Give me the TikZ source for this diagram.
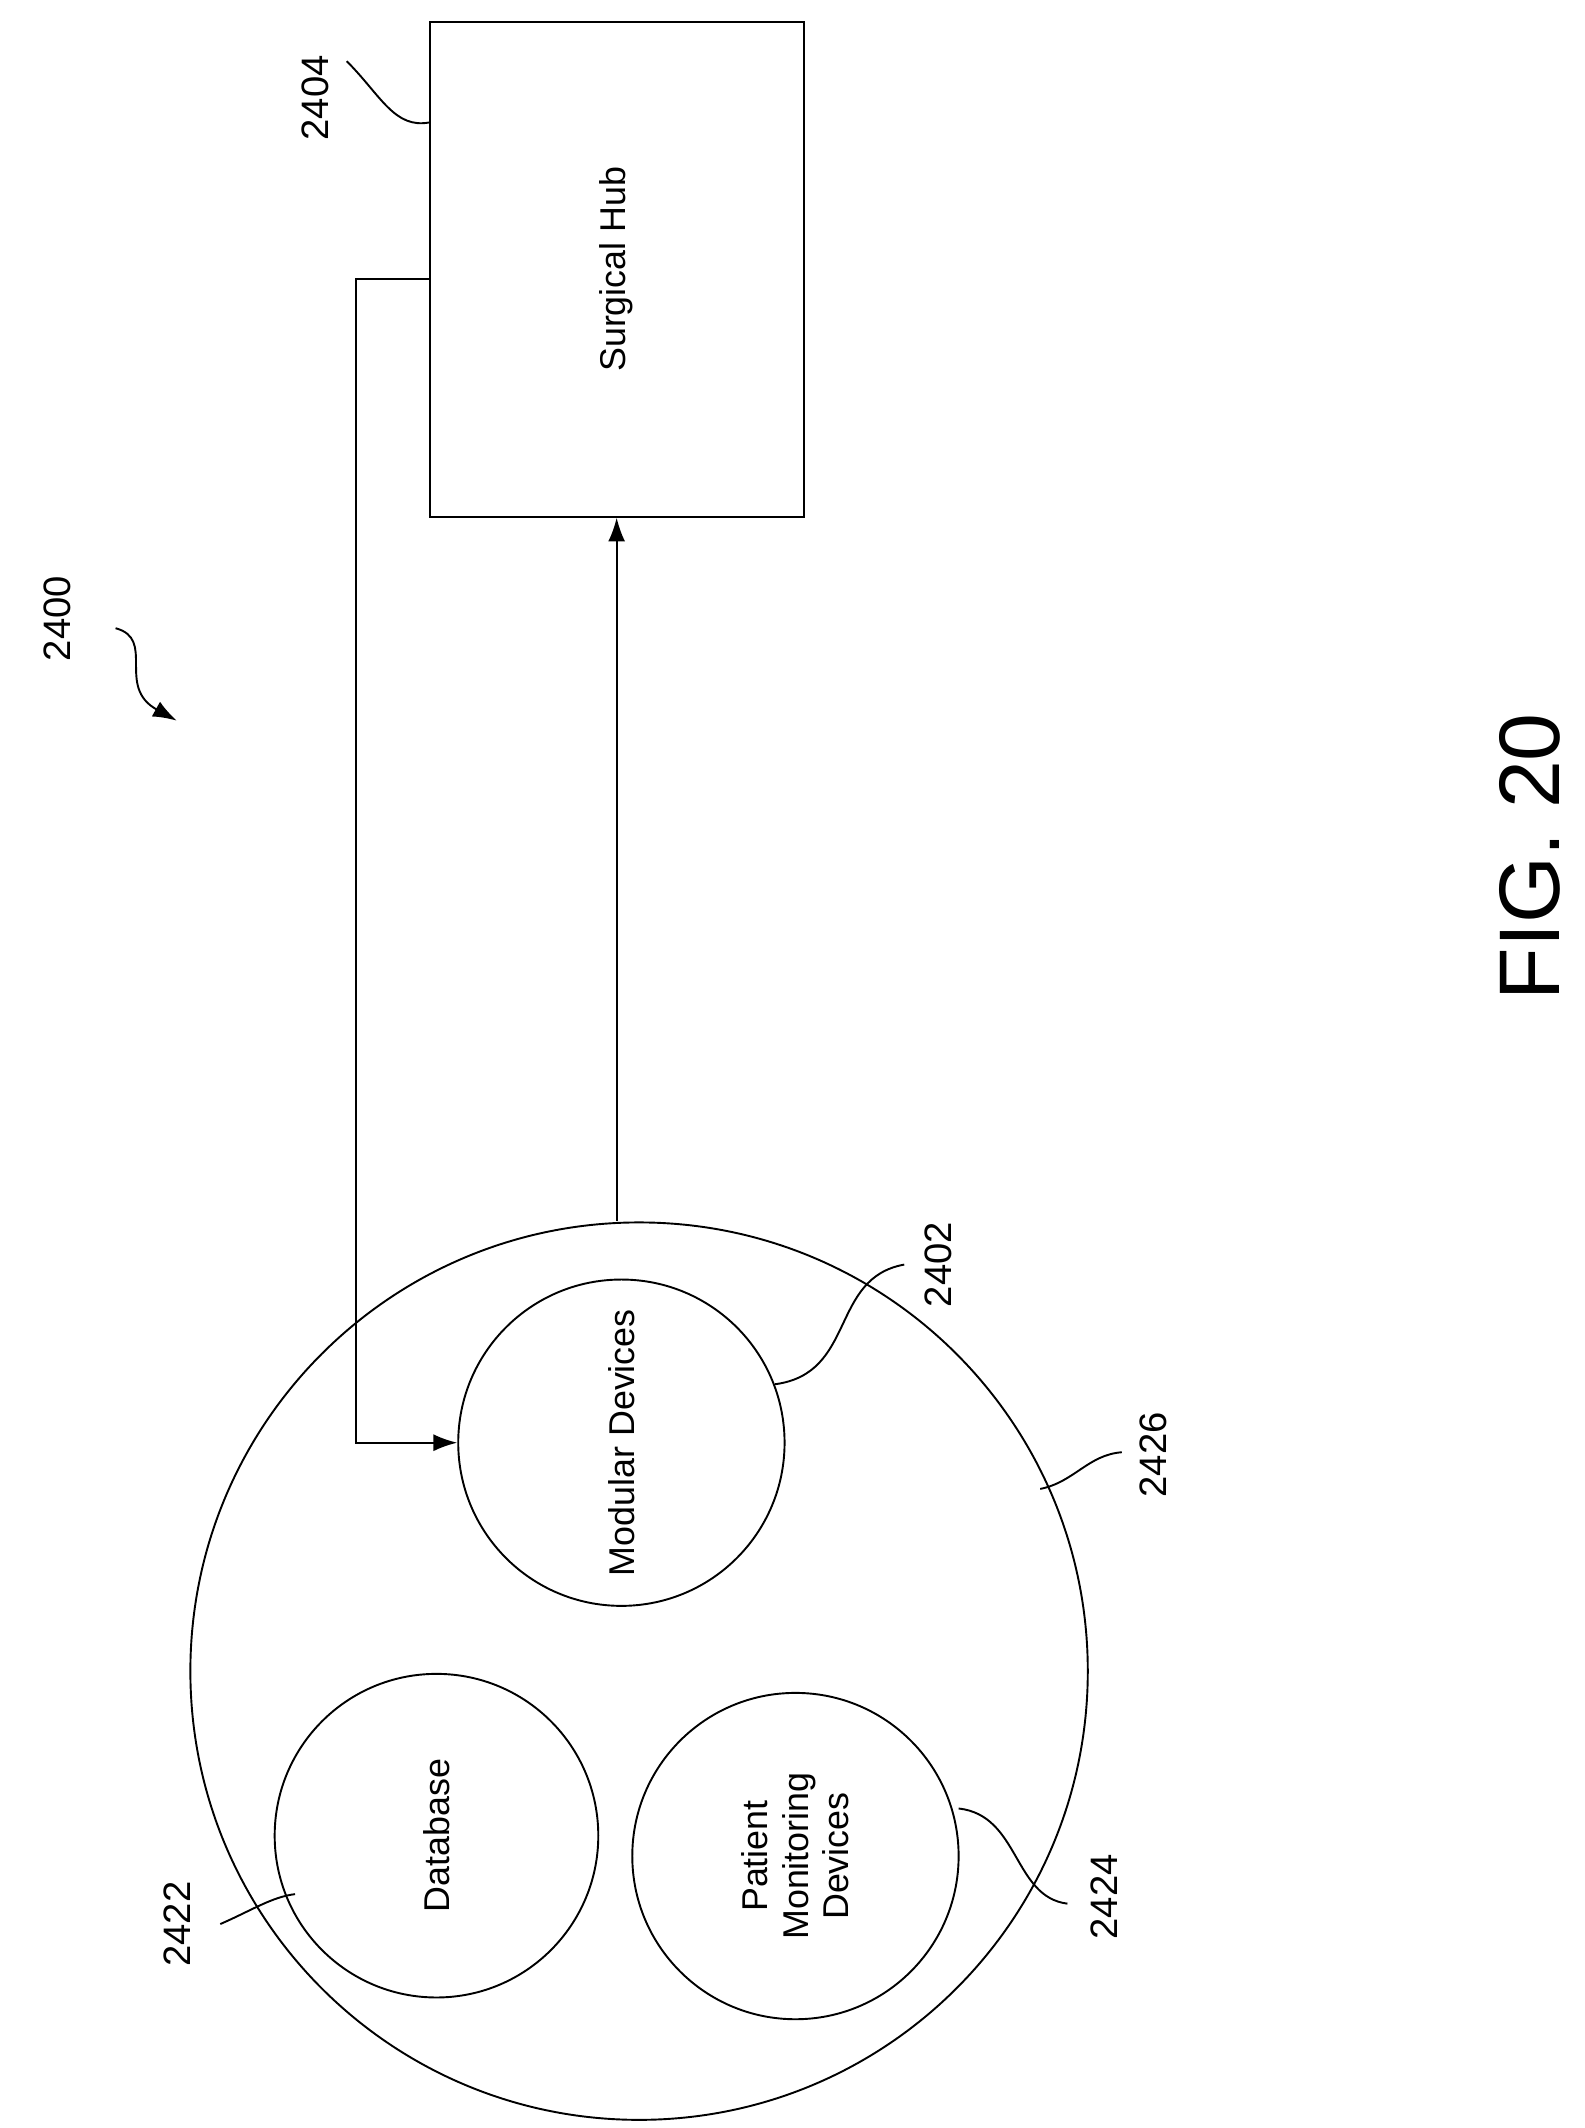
\documentclass[tikz,border=0pt]{standalone}
\usepackage{fontspec}
\setmainfont{Liberation Sans}
\usetikzlibrary{arrows.meta,positioning}
\begin{document}
\begin{tikzpicture}[x=0.02cm,y=-0.02cm]
% estilos
\tikzstyle{bloque} = [draw,thick,minimum width=275*0.02cm,minimum height=364*0.02cm]
\tikzstyle{circulo} = [draw,thick,circle,inner sep=0pt]
\tikzstyle{texto} = [rotate=90,font=\fontsize{15}{17}\selectfont,align=center]
\tikzstyle{ref} = [rotate=90,font=\fontsize{16}{18}\selectfont]
\tikzstyle{flecha} = [thick,-{Latex[length=0.35cm,width=0.25cm]}]
\useasboundingbox (0,0) rectangle (1165,1565);
% bloques y circulos
\node[bloque] (hub) at (453.5,198) {};
\node[texto] at (hub) {Surgical Hub};
\node[circulo,minimum size=660*0.02cm] (grupo) at (470,1229) {};
\node[circulo,minimum size=240*0.02cm] (modular) at (457,1061) {};
\node[texto] at (modular) {Modular Devices};
\node[circulo,minimum size=238*0.02cm] (base) at (321,1350) {};
\node[texto] at (base) {Database};
\node[circulo,minimum size=240*0.02cm] (paciente) at (585,1365) {};
\node[texto] at (paciente) {Patient\\Monitoring\\Devices};
% conexiones
\coordinate (c1) at (262,205);
\coordinate (c2) at (262,1061);
\draw[flecha] (grupo.north -| hub.south) -- (hub.south);
\draw[flecha] (hub.west |- c1) -- (c1) -- (c2) -- (modular.west);
% referencias
\node[ref] (r2404) at (232,72) {2404};
\draw[thick] (255,45) .. controls (280,70) and (290,95) .. (316,90);
\node[ref] (r2400) at (42,455) {2400};
\draw[flecha] (85,462) .. controls (115,470) and (85,505) .. (130,530);
\node[ref] (r2402) at (690,930) {2402};
\draw[thick] (570,1018) .. controls (630,1010) and (610,940) .. (665,930);
\node[ref] (r2426) at (848,1070) {2426};
\draw[thick] (765,1095) .. controls (790,1090) and (800,1070) .. (825,1068);
\node[ref] (r2422) at (130,1415) {2422};
\draw[thick] (162,1415) .. controls (185,1405) and (200,1395) .. (217,1393);
\node[ref] (r2424) at (812,1395) {2424};
\draw[thick] (705,1330) .. controls (750,1335) and (745,1395) .. (785,1400);
\node[rotate=90,font=\fontsize{36}{40}\selectfont] (fig) at (1125,630) {FIG. 20};
\end{tikzpicture}
\end{document}
